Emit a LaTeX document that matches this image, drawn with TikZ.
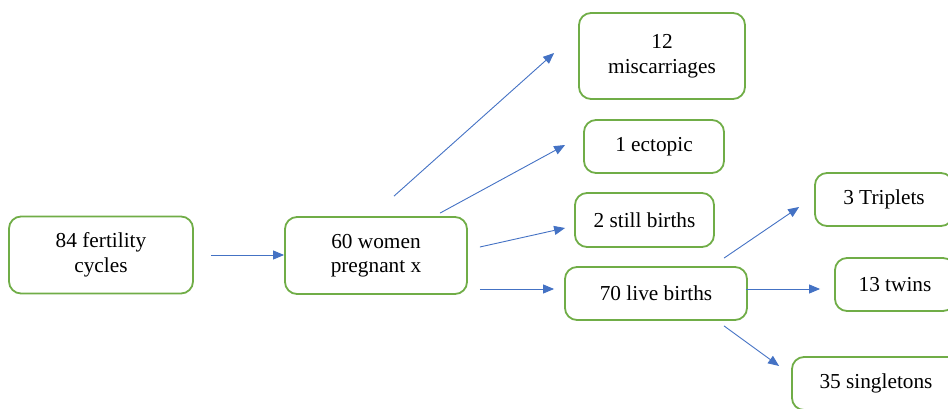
\documentclass[tikz,border=0pt]{standalone}
\usepackage{fontspec}
\setmainfont{Liberation Serif}
\usetikzlibrary{arrows.meta}
\definecolor{boxgreen}{RGB}{112,173,71}
\definecolor{arrblue}{RGB}{68,114,196}
\tikzset{
  box/.style={draw=boxgreen, line width=1.8pt, rounded corners=12pt, rectangle, align=center,
    font=\fontsize{21.3}{24.5}\selectfont, inner sep=0pt},
  arr/.style={draw=arrblue, line width=0.9pt, -{Triangle[length=11pt,width=9pt]}}
}
\begin{document}
\begin{tikzpicture}[x=1pt,y=1pt]
    \useasboundingbox (0,0) rectangle (948,-409);
    \clip (0,0) rectangle (948,-409);
    \node[box, minimum width=184pt, minimum height=77pt] (cycles) at (101,-255) {84 fertility\\cycles};
    \node[box, minimum width=182pt, minimum height=77pt] (pregnant) at (376,-255.5) {60 women\\pregnant x};
    \node[box, minimum width=166pt, minimum height=86pt] (miscarriages) at (662,-56) {12\\miscarriages};
    \node[box, minimum width=140pt, minimum height=53pt] (ectopic) at (654,-146.5) {1 ectopic};
    \node[box, minimum width=139pt, minimum height=54pt] (still) at (644.5,-220) {2 still births};
    \node[box, minimum width=182pt, minimum height=53pt] (live) at (656,-293.5) {70 live births};
    \node[box, minimum width=138pt, minimum height=53pt] (triplets) at (884,-199.5) {3 Triplets};
    \node[box, minimum width=120pt, minimum height=53pt] (twins) at (895,-284.5) {13 twins};
    \node[box, minimum width=168pt, minimum height=53pt] (singletons) at (876,-383.5) {35 singletons};
    \draw[arr] ([xshift=17pt]cycles.east) -- ([yshift=0.5pt]pregnant.west);
    \draw[arr] ([xshift=18pt,yshift=20pt]pregnant.north) -- ([xshift=-24pt,yshift=3pt]miscarriages.west);
    \draw[arr] ([xshift=64pt,yshift=3pt]pregnant.north) -- ([xshift=-18pt,yshift=1.5pt]ectopic.west);
    \draw[arr] ([xshift=12pt,yshift=8.5pt]pregnant.east) -- ([xshift=-9pt,yshift=-8pt]still.west);
    \draw[arr] ([xshift=12pt,yshift=-33.5pt]pregnant.east) -- ([xshift=-10pt,yshift=4.5pt]live.west);
    \draw[arr] ([xshift=68pt,yshift=8pt]live.north) -- ([xshift=-15pt,yshift=-7.5pt]triplets.west);
    \draw[arr] ([xshift=-2pt,yshift=4.5pt]live.east) -- ([xshift=-14pt,yshift=-4.5pt]twins.west);
    \draw[arr] ([xshift=68pt,yshift=-5pt]live.south) -- ([xshift=-12pt,yshift=17.5pt]singletons.west);
\end{tikzpicture}
\end{document}
